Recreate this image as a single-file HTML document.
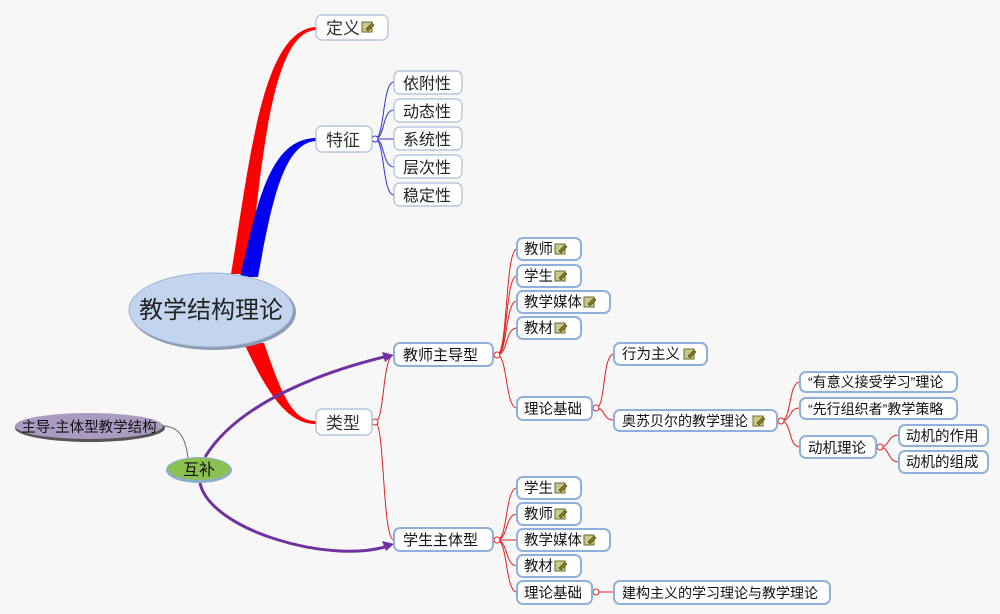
<!DOCTYPE html>
<html><head><meta charset="utf-8"><style>
html,body{margin:0;padding:0;background:#f7f7f8;}
svg{display:block;font-family:"Liberation Sans","Noto Sans CJK SC",sans-serif;}
</style></head><body>
<svg width="1000" height="614" viewBox="0 0 1000 614" xmlns="http://www.w3.org/2000/svg">
<defs>
<g id="ic"><rect x="0" y="1" width="10" height="10" fill="#c9c98a" stroke="#6b6b2e" stroke-width="1"/><path d="M4 8 L10 2 L12 4 L6 10 Z" fill="#8a7a20" stroke="#4a4010" stroke-width="0.6"/></g>
</defs>
<rect width="1000" height="614" fill="#f7f7f8"/>

<path d="M231 274 C250 160 262 30 316 27 L316 30 C272 32 262 160 249 274 Z" fill="#ff0000"/>
<path d="M240 277 C258 200 270 139 316 138 L316 141 C284 143 272 200 258 277 Z" fill="#0000ee"/>
<path d="M244 343 L264 343 C282 395 292 421 316 421 L316 424 C290 424 270 400 244 343 Z" fill="#ff0000"/>

<g fill="none" stroke="#3333cc" stroke-width="1">
<path d="M375 139 C385 139 382 82 394 82"/>
<path d="M375 139 C385 139 382 110 394 110"/>
<path d="M375 139 L394 139"/>
<path d="M375 139 C385 139 382 167 394 167"/>
<path d="M375 139 C385 139 382 195 394 195"/>
</g>
<circle cx="375" cy="139" r="3" fill="#fff" stroke="#3333cc"/>

<g fill="none" stroke="#e02020" stroke-width="1">
<path d="M375 422 C385 422 382 355 394 355"/>
<path d="M375 422 C385 422 382 540 394 540"/>
<path d="M497 355 C508 355 505 249 517 249"/>
<path d="M497 355 C508 355 505 276 517 276"/>
<path d="M497 355 C508 355 505 301 517 301"/>
<path d="M497 355 C508 355 505 328 517 328"/>
<path d="M497 355 C508 355 505 408 517 408"/>
<path d="M596 408 C606 408 602 354 614 354"/>
<path d="M596 408 C606 408 602 420 614 420"/>
<path d="M781 421 C792 421 788 382 800 382"/>
<path d="M781 421 C792 421 788 408 800 408"/>
<path d="M781 421 C792 421 788 447 800 447"/>
<path d="M880 447 C890 447 887 435 899 435"/>
<path d="M880 447 C890 447 887 462 899 462"/>
<path d="M497 540 C508 540 505 488 517 488"/>
<path d="M497 540 C508 540 505 514 517 514"/>
<path d="M497 540 C508 540 505 540 517 540"/>
<path d="M497 540 C508 540 505 566 517 566"/>
<path d="M497 540 C508 540 505 592 517 592"/>
<path d="M596 592 L614 592"/>
</g>
<g fill="#fff" stroke="#e02020">
<circle cx="375" cy="422" r="3"/><circle cx="497" cy="355" r="3"/><circle cx="596" cy="408" r="3"/><circle cx="781" cy="421" r="3"/><circle cx="880" cy="447" r="3"/><circle cx="497" cy="540" r="3"/><circle cx="596" cy="592" r="3"/>
</g>

<path d="M163 426 C180 426 186 440 188 458" fill="none" stroke="#666" stroke-width="1"/>

<g fill="none" stroke="#7030a0" stroke-width="3">
<path d="M205 457 C240 400 330 370 388 356"/>
<path d="M200 483 C210 530 330 565 388 546"/>
</g>
<path d="M394 355 L382 352 L385 362 Z" fill="#7030a0"/>
<path d="M394 544 L382 541 L386 551 Z" fill="#7030a0"/>

<ellipse cx="213" cy="312" rx="83" ry="38" fill="#8a9bb3"/>
<ellipse cx="211" cy="310" rx="82" ry="37" fill="#c3d5ee" stroke="#9fb3cf"/>
<text x="211" y="318" font-size="24" text-anchor="middle" fill="#222">教学结构理论</text>

<ellipse cx="90" cy="428" rx="75" ry="14" fill="#555"/>
<ellipse cx="89" cy="426" rx="74" ry="13" fill="#a99bc2"/>
<text x="89" y="432" font-size="14.5" text-anchor="middle" fill="#111">主导-主体型教学结构</text>
<ellipse cx="199" cy="470" rx="33" ry="13" fill="#8ab0cc"/>
<ellipse cx="199" cy="469" rx="31" ry="11" fill="#8cc152"/>
<text x="199" y="475" font-size="16" text-anchor="middle" fill="#111">互补</text>

<g fill="#fff" stroke="#a8bcd8" stroke-width="1.2">
<rect x="316" y="15" width="72" height="25" rx="6"/>
<rect x="316" y="126" width="56" height="26" rx="6"/>
<rect x="316" y="409" width="56" height="26" rx="6"/>
<rect x="394" y="71" width="68" height="23" rx="6"/>
<rect x="394" y="99" width="68" height="23" rx="6"/>
<rect x="394" y="127" width="68" height="23" rx="6"/>
<rect x="394" y="155" width="68" height="23" rx="6"/>
<rect x="394" y="183" width="68" height="23" rx="6"/>
</g>
<g font-size="17" fill="#333">
<text x="326" y="34">定义</text>
<text x="326" y="146">特征</text>
<text x="326" y="429">类型</text>
</g>
<use href="#ic" x="362" y="21"/>
<g font-size="16" fill="#222">
<text x="403" y="89">依附性</text>
<text x="403" y="117">动态性</text>
<text x="403" y="145">系统性</text>
<text x="403" y="173">层次性</text>
<text x="403" y="201">稳定性</text>
</g>

<g fill="#fff" stroke="#8fb0dc" stroke-width="2">
<rect x="394" y="343" width="99" height="23" rx="6"/>
<rect x="394" y="528" width="99" height="23" rx="6"/>
<rect x="517" y="238" width="64" height="22" rx="6"/>
<rect x="517" y="265" width="64" height="22" rx="6"/>
<rect x="517" y="291" width="93" height="22" rx="6"/>
<rect x="517" y="317" width="64" height="22" rx="6"/>
<rect x="517" y="397" width="75" height="23" rx="6"/>
<rect x="614" y="343" width="93" height="22" rx="6"/>
<rect x="614" y="410" width="163" height="21" rx="6"/>
<rect x="800" y="372" width="157" height="20" rx="6"/>
<rect x="800" y="398" width="157" height="21" rx="6"/>
<rect x="800" y="436" width="76" height="22" rx="6"/>
<rect x="899" y="425" width="89" height="21" rx="6"/>
<rect x="899" y="451" width="89" height="22" rx="6"/>
<rect x="517" y="477" width="64" height="22" rx="6"/>
<rect x="517" y="503" width="64" height="22" rx="6"/>
<rect x="517" y="529" width="93" height="22" rx="6"/>
<rect x="517" y="555" width="64" height="22" rx="6"/>
<rect x="517" y="581" width="75" height="23" rx="6"/>
<rect x="614" y="581" width="216" height="23" rx="6"/>
</g>
<g font-size="14.5" fill="#111">
<text x="403" y="360" font-size="15">教师主导型</text>
<text x="403" y="545" font-size="15">学生主体型</text>
<text x="524" y="254">教师</text>
<text x="524" y="281">学生</text>
<text x="524" y="307">教学媒体</text>
<text x="524" y="333">教材</text>
<text x="524" y="414">理论基础</text>
<text x="622" y="359">行为主义</text>
<text x="622" y="426" font-size="14">奥苏贝尔的教学理论</text>
<text x="808" y="387" font-size="14">“有意义接受学习”理论</text>
<text x="808" y="414" font-size="14">“先行组织者”教学策略</text>
<text x="808" y="453">动机理论</text>
<text x="906" y="441">动机的作用</text>
<text x="906" y="467">动机的组成</text>
<text x="524" y="493">学生</text>
<text x="524" y="519">教师</text>
<text x="524" y="545">教学媒体</text>
<text x="524" y="571">教材</text>
<text x="524" y="598">理论基础</text>
<text x="622" y="598" font-size="14">建构主义的学习理论与教学理论</text>
</g>
<use href="#ic" x="555" y="243"/>
<use href="#ic" x="555" y="270"/>
<use href="#ic" x="584" y="296"/>
<use href="#ic" x="555" y="322"/>
<use href="#ic" x="684" y="348"/>
<use href="#ic" x="753" y="415"/>
<use href="#ic" x="555" y="482"/>
<use href="#ic" x="555" y="508"/>
<use href="#ic" x="584" y="534"/>
<use href="#ic" x="555" y="560"/>
</svg>
</body></html>
